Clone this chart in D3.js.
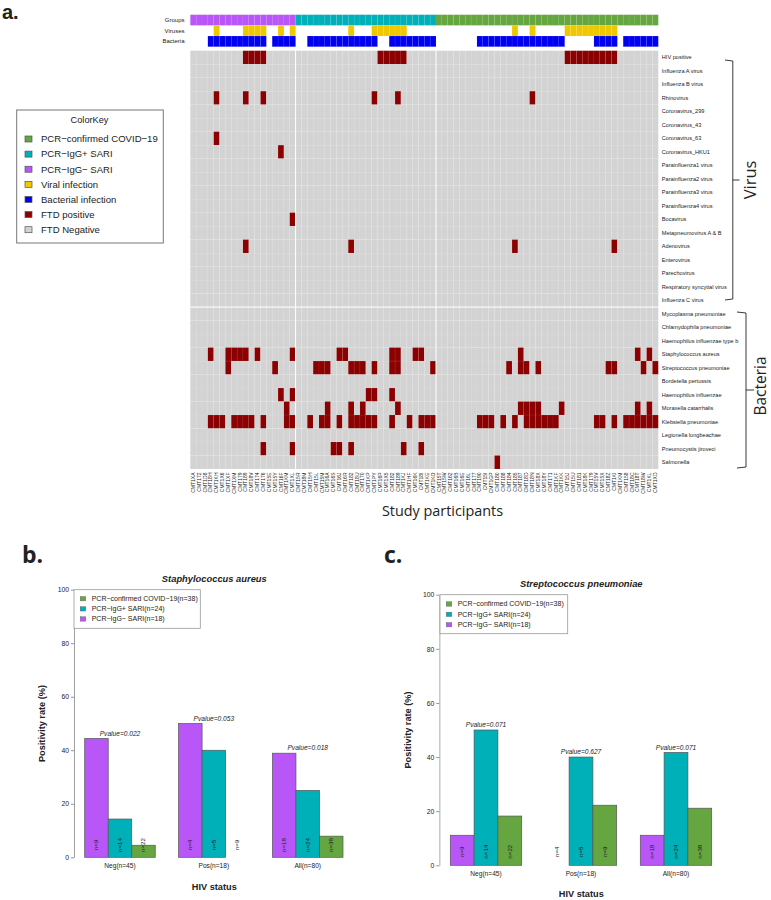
<!DOCTYPE html>
<html><head><meta charset="utf-8">
<script src="https://cdn.jsdelivr.net/npm/d3@7"></script>
<style>html,body{margin:0;padding:0;background:#fff}svg{display:block}text{font-family:"Liberation Sans",Arial,sans-serif;fill:#222}</style>
</head><body><svg id="c" width="771" height="900"></svg>
<script>
const participantIds = ["CMT1XA","CMT172","CMT1D8","CMT18H","CMT1KH","CMT1X6","CMT1XF","CMT1XM","CMT179","CMT189","CMT18V","CMT174","CMT176","CMT15E","CMT15Y","CMT16F","CMT1KM","CMT1XL",
"CMT15R","CMT18M","CMT15H","CMT15L","CMT15M","CMT16A","CMT16S","CMT16J","CMT16R","CMT182","CMT18U","CMT170","CMT1KP","CMT1PY","CMT16P","CMT1X5","CMT182","CMT189","CMT1KJ","CMT1HF","CMT16K","CMT18I","CMT1KE","CMT1KO",
"CMT15T","CMT15W","CMT162","CMT16B","CMT16E","CMT16L","CMT177","CMT190","CMT15I","CMT1GP","CMT180","CMT188","CMT184","CMT185","CMT187","CMT18D","CMT18N","CMT18X","CMT18Y","CMT171","CMT1KF","CMT1KK","CMT15J","CMT15U","CMT181","CMT18K","CMT179","CMT15V","CMT15X","CMT18Z","CMT1KI","CMT1KM","CMT158","CMT18C","CMT18T","CMT18W","CMT1KL","CMT1XD"];
const groupSizes = [18,24,38];
const groupNames = ["PCR−IgG− SARI","PCR−IgG+ SARI","PCR−confirmed COVID−19"];
const viralColumns = [4,9,10,11,12,15,17,27,31,32,33,34,35,36,55,58,64,65,66,67,68,69,70,71,72];
const bacterialColumns = [3,4,5,6,7,8,9,10,11,12,14,15,16,17,20,21,22,23,24,25,26,27,28,29,30,31,34,35,36,37,38,39,40,41,49,50,51,52,53,54,55,56,57,58,59,60,61,62,63,69,70,71,72,74,75,76,77,78,79];
const virusRows = ["HIV positive","Influenza A virus","Influenza B virus","Rhinovirus","Coronavirus_299","Coronavirus_43","Coronavirus_63","Coronavirus_HKU1","Parainfluenza1 virus","Parainfluenza2 virus","Parainfluenza3 virus","Parainfluenza4 virus","Bocavirus","Metapneumovirus A & B","Adenovirus","Enterovirus","Parechovirus","Respiratory syncytial virus","Influenza C virus"];
const bacteriaRows = ["Mycoplasma pneumoniae","Chlamydophila pneumoniae","Haemophilus influenzae type b","Staphylococcus aureus","Streptococcus pneumoniae","Bordetella pertussis","Haemophilus influenzae","Moraxella catarrhalis","Klebsiella pneumoniae","Legionella longbeachae","Pneumocystis jiroveci","Salmonella"];
const virusPositives = [
 [9,10,11,12,32,33,34,35,36,64,65,66,67,68,69,70,71,72],[],[],[4,9,12,31,35,58],[],[],[4],[15],[],[],[],[],[17],[],[9,27,55,72],[],[],[],[]];
const bacteriaPositives = [
 [],[],[],
 [3,6,7,8,9,11,17,25,26,34,35,38,39,56,76,78],
 [6,14,21,22,23,27,28,29,31,34,35,41,54,56,57,59,71,72,77,79],
 [],
 [15,17,30,31,34],
 [16,23,27,29,35,56,57,58,59,63,76,78],
 [3,4,5,7,8,9,10,12,16,17,20,22,23,25,27,28,29,30,31,34,37,39,40,41,49,50,51,53,55,57,58,59,60,61,62,69,70,72,74,75,76,77,78,79],
 [],
 [12,17,24,25,27,36,39],
 [52]];
const keyLabels = ["PCR−confirmed COVID−19","PCR−IgG+ SARI","PCR−IgG− SARI","Viral infection","Bacterial infection","FTD positive","FTD Negative"];
const keyColors = ["#66a640","#00b0b9","#b956f7","#f0c800","#0000f0","#8b0000","#d3d3d3"];
const annotationRows = ["Groups","Viruses","Bacteria"];

const hivCategories = ["Neg(n=45)","Pos(n=18)","All(n=80)"];
const barGroups = ["PCR−IgG− SARI","PCR−IgG+ SARI","PCR−confirmed COVID−19"];
const barLegendLabels = ["PCR−confirmed COVID−19(n=38)","PCR−IgG+ SARI(n=24)","PCR−IgG− SARI(n=18)"];
const barCounts = [[9,14,22],[4,5,9],[18,24,38]];
const staphValues = [[44.4,14.3,4.5],[50,40,0],[38.9,25,7.9]];
const strepValues = [[11.1,50,18.2],[0,40,22.2],[11.1,41.7,21.1]];
const staphPvalues = ["0.022","0.053","0.018"];
const strepPvalues = ["0.071","0.627","0.071"];
const yTicks = [0,20,40,60,80,100];

const svg = d3.select("#c");
const colorOf = d3.scaleOrdinal(keyLabels, keyColors);

/* ---------- panel a: heatmap ---------- */
const cols = d3.range(participantIds.length);
const allRows = virusRows.concat(bacteriaRows);
const x = d3.scaleBand(cols,[190.3,658.3]);
const yRow = d3.scaleBand(allRows,[50.7,469]);
const yAnn = d3.scaleBand(annotationRows,[14.7,46.7]);
const seam = s => s.attr("stroke","#fff").attr("stroke-opacity",.1).attr("stroke-width",.5);

const groupOfCol = [];
groupSizes.forEach((n,g)=>{ for(let i=0;i<n;i++) groupOfCol.push(g); });
const grpColor = ["#b956f7","#00b0b9","#66a640"];

const annCells = [];
cols.forEach(c=>annCells.push({c,r:"Groups",f:grpColor[groupOfCol[c]]}));
viralColumns.forEach(c=>annCells.push({c,r:"Viruses",f:"#f0c800"}));
bacterialColumns.forEach(c=>annCells.push({c,r:"Bacteria",f:"#0000f0"}));
svg.append("g").selectAll("rect").data(annCells).join("rect")
  .attr("x",d=>x(d.c)).attr("y",d=>yAnn(d.r)).attr("width",x.bandwidth()).attr("height",yAnn.bandwidth())
  .attr("fill",d=>d.f).call(seam);
svg.append("g").selectAll("text").data(annotationRows).join("text")
  .attr("x",184.5).attr("y",d=>yAnn(d)+yAnn.bandwidth()/2+2).attr("text-anchor","end").attr("font-size",6).text(d=>d);

const positive = new Set();
virusPositives.forEach((list,i)=>list.forEach(c=>positive.add(virusRows[i]+"|"+c)));
bacteriaPositives.forEach((list,i)=>list.forEach(c=>positive.add(bacteriaRows[i]+"|"+c)));
const cells = d3.cross(allRows,cols,(r,c)=>({r,c,on:positive.has(r+"|"+c)}));
svg.append("g").selectAll("rect").data(cells).join("rect")
  .attr("x",d=>x(d.c)).attr("y",d=>yRow(d.r)).attr("width",x.bandwidth()).attr("height",yRow.bandwidth())
  .attr("fill",d=>d.on?"#8b0000":"#d3d3d3").call(seam);
/* white separators */
const sepCols = [groupSizes[0], groupSizes[0]+groupSizes[1]];
svg.append("g").selectAll("line").data(sepCols).join("line")
  .attr("x1",d=>x(d)).attr("x2",d=>x(d)).attr("y1",yRow.range()[0]).attr("y2",yRow.range()[1])
  .attr("stroke","#fff").attr("stroke-width",1);
svg.append("line").attr("x1",x.range()[0]).attr("x2",x.range()[1])
  .attr("y1",yRow(bacteriaRows[0])).attr("y2",yRow(bacteriaRows[0])).attr("stroke","#fff").attr("stroke-width",1);

svg.append("g").selectAll("text").data(allRows).join("text")
  .attr("x",661.8).attr("y",d=>yRow(d)+yRow.bandwidth()/2+1.8).attr("font-size",5.6).text(d=>d);
svg.append("g").selectAll("text").data(cols).join("text")
  .attr("transform",c=>`translate(${x(c)+x.bandwidth()/2+1.6},472.5) rotate(-90)`)
  .attr("text-anchor","end").attr("font-size",5).text(c=>participantIds[c]);

/* brackets */
function bracket(x0,x1,xTip,y0,y1,yTip){
  const p=d3.path();
  p.moveTo(x0,y0); p.lineTo(x1,y0+1); p.lineTo(x1,y1-1); p.lineTo(x0,y1);
  p.moveTo(x1,yTip); p.lineTo(xTip,yTip);
  svg.append("path").attr("d",p.toString()).attr("fill","none").attr("stroke","#222").attr("stroke-width",.9);
}
bracket(725,732.8,739.5,60,300,180);
bracket(737,746,754,312,468,390);
const calibri = "'Open Sans','Noto Sans',sans-serif";
svg.append("text").attr("transform","translate(756,180) rotate(-90)").attr("text-anchor","middle")
  .style("font-family",calibri).attr("font-size",16.5).text("Virus");
svg.append("text").attr("transform","translate(766,386) rotate(-90)").attr("text-anchor","middle")
  .style("font-family",calibri).attr("font-size",15.5).text("Bacteria");
svg.append("text").attr("x",442.5).attr("y",515.5).attr("text-anchor","middle")
  .style("font-family",calibri).attr("font-size",14.4).text("Study participants");

/* panel letters */
svg.append("text").attr("x",2).attr("y",18.5).style("font-family","'Liberation Sans'").attr("font-weight",700).attr("font-size",20).attr("fill","#000").text("a.");
[["b.",22,563],["c.",384,563]].forEach(([t,px,py])=>{
  svg.append("text").attr("x",px).attr("y",py).style("font-family",calibri).attr("font-weight",700).attr("font-size",23).attr("fill","#000").text(t);
});

/* colour key */
const key = svg.append("g");
key.append("rect").attr("x",16.7).attr("y",110).attr("width",146.6).attr("height",133).attr("fill","#fff").attr("stroke","#777").attr("stroke-width",1);
key.append("text").attr("x",89.5).attr("y",122.5).attr("text-anchor","middle").attr("font-size",9.2).text("ColorKey");
const keyY = d3.scalePoint(keyLabels,[139,229.7]);
key.selectAll("rect.s").data(keyLabels).join("rect").attr("class","s")
  .attr("x",25).attr("y",d=>keyY(d)-3).attr("width",7).attr("height",6).attr("fill",d=>colorOf(d)).attr("stroke","#555").attr("stroke-width",.7);
key.selectAll("text.l").data(keyLabels).join("text").attr("class","l")
  .attr("x",41).attr("y",d=>keyY(d)+3.3).attr("font-size",9.55).text(d=>d);

/* ---------- panels b, c: bars ---------- */
function barChart(o){
  const g = svg.append("g");
  const xg = d3.scaleBand(hivCategories,o.xRange).paddingInner(.2484).paddingOuter(0);
  const xs = d3.scaleBand(barGroups,[0,xg.bandwidth()]);
  const y = d3.scaleLinear([0,100],o.yRange);
  const ax = g.append("g").attr("transform",`translate(${o.axisX},0)`)
    .call(d3.axisLeft(y).tickValues(yTicks).tickSize(3).tickSizeOuter(0).tickPadding(2));
  ax.select(".domain").attr("stroke",o.axisColor).attr("stroke-width",o.axisWidth);
  ax.selectAll(".tick line").attr("stroke","#666").attr("stroke-width",.7);
  ax.selectAll("text").attr("font-size",6.8).style("font-family","'Liberation Sans'").attr("fill","#222");

  hivCategories.forEach((cat,i)=>{
    const cx = xg(cat)+xg.bandwidth()/2;
    barGroups.forEach((grp,j)=>{
      const v = o.values[i][j], bx = xg(cat)+xs(grp);
      g.append("rect").attr("x",bx).attr("y",y(v)).attr("width",xs.bandwidth()).attr("height",y(0)-y(v))
        .attr("fill",grpColor[j]).attr("stroke","#555").attr("stroke-width",.7);
      g.append("text").attr("transform",`translate(${bx+xs.bandwidth()/2+2},${o.nY}) rotate(-90)`)
        .attr("text-anchor","middle").attr("font-size",6.2).text("n="+barCounts[i][j]);
    });
    g.append("text").attr("x",cx).attr("y",y(d3.max(o.values[i]))-2.8).attr("text-anchor","middle")
      .attr("font-size",6.6).attr("font-style","italic").text("Pvalue="+o.pvalues[i]);
    g.append("text").attr("x",cx).attr("y",o.catY).attr("text-anchor","middle").attr("font-size",6.6).text(cat);
  });
  const mid = o.titleX;
  g.append("text").attr("x",mid).attr("y",o.titleY).attr("text-anchor","middle").attr("font-size",9.35)
    .attr("font-weight",700).attr("font-style","italic").text(o.title);
  g.append("text").attr("x",mid).attr("y",o.xTitleY).attr("text-anchor","middle").attr("font-size",9.2)
    .attr("font-weight",700).text("HIV status");
  g.append("text").attr("transform",`translate(${o.yTitleX},${o.yTitleY}) rotate(-90)`).attr("text-anchor","middle")
    .attr("font-size",9.2).attr("font-weight",700).text("Positivity rate (%)");
  /* legend */
  const [lx0,lx1,ly0,ly1] = o.legendBox;
  g.append("rect").attr("x",lx0).attr("y",ly0).attr("width",lx1-lx0).attr("height",ly1-ly0)
    .attr("fill","#fff").attr("stroke","#999").attr("stroke-width",.8);
  const ly = d3.scalePoint(barLegendLabels,o.legendY);
  const lc = [grpColor[2],grpColor[1],grpColor[0]];
  barLegendLabels.forEach((t,i)=>{
    g.append("rect").attr("x",lx0+6.2).attr("y",ly(t)-2.2).attr("width",5.6).attr("height",4.4)
      .attr("fill",lc[i]).attr("stroke","#666").attr("stroke-width",.4);
    g.append("text").attr("x",lx0+17.7).attr("y",ly(t)+2.4).attr("font-size",7).text(t);
  });
}
barChart({values:staphValues,pvalues:staphPvalues,title:"Staphylococcus aureus",
  xRange:[84.7,343],yRange:[857.3,589.7],axisX:74,axisColor:"#888",axisWidth:.8,
  nY:845,catY:867.5,titleX:214.3,titleY:582,xTitleY:890,yTitleX:45,yTitleY:723.5,
  legendBox:[74,200.3,589.7,628.3],legendY:[598.7,619]});
barChart({values:strepValues,pvalues:strepPvalues,title:"Streptococcus pneumoniae",
  xRange:[450.3,711.7],yRange:[865.3,594.7],axisX:439.3,axisColor:"#c4c4c4",axisWidth:1.4,
  nY:851.7,catY:875.6,titleX:581.3,titleY:587,xTitleY:896.5,yTitleX:410.7,yTitleY:730,
  legendBox:[440,567.7,594.7,633.7],legendY:[604,624.7]});
</script></body></html>
